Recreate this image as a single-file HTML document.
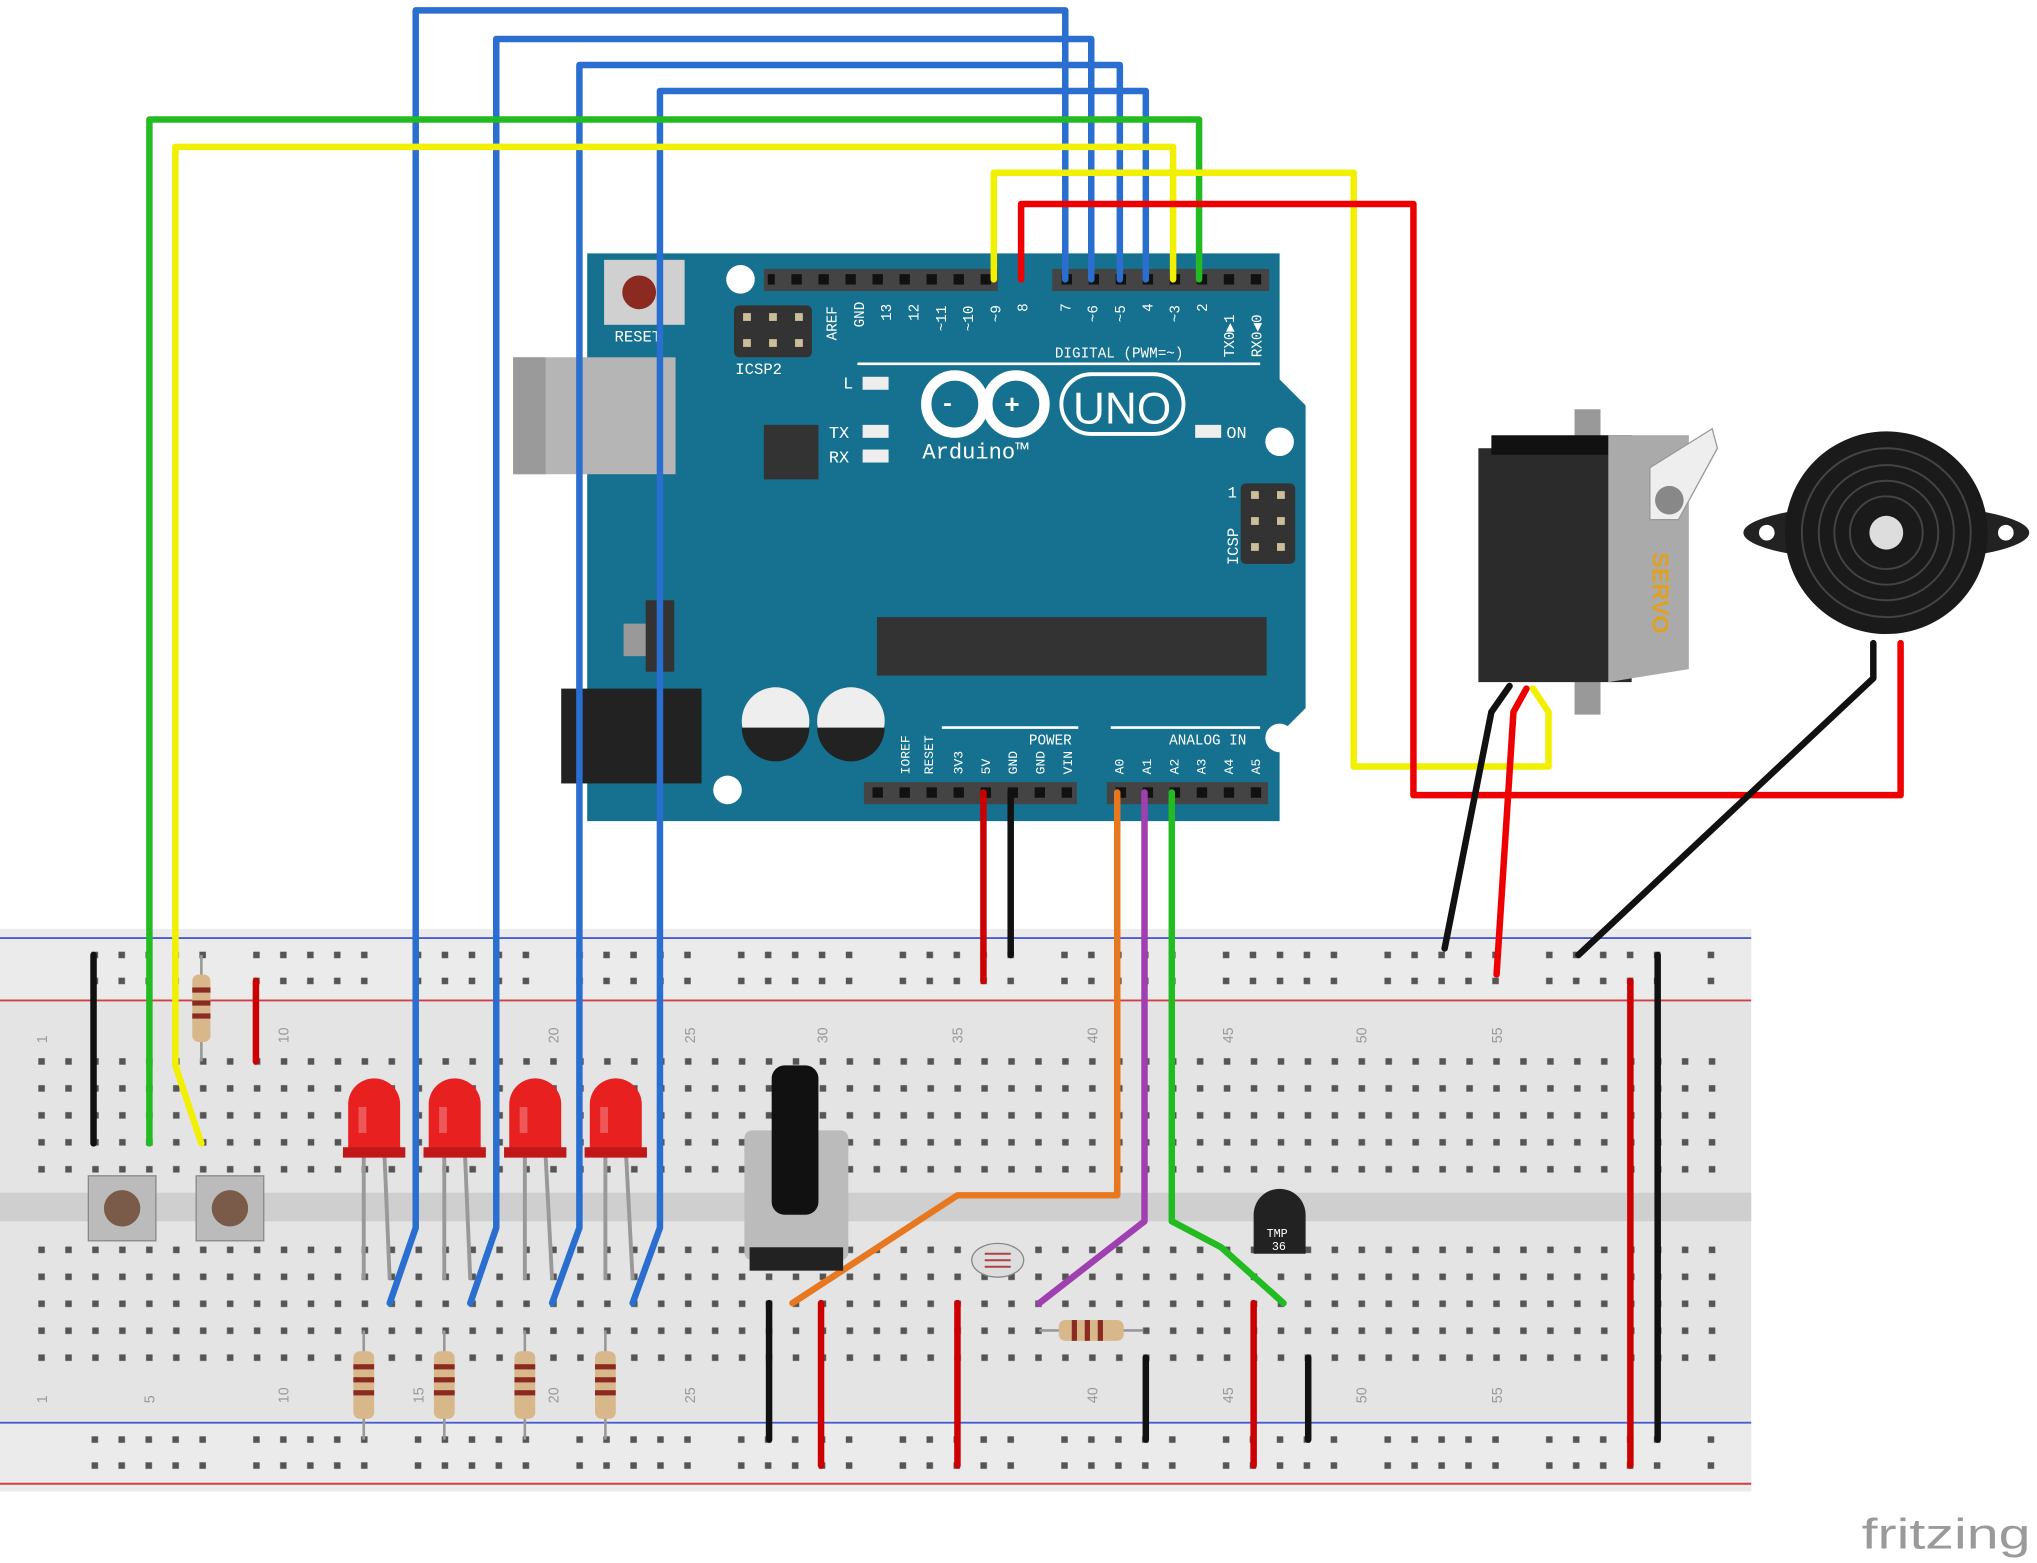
<!DOCTYPE html>
<html><head><meta charset="utf-8"><style>
html,body{margin:0;padding:0;background:#fff;}
svg{display:block;}
</style></head><body>
<svg width="2037" height="1563" viewBox="0 0 1568 1203" preserveAspectRatio="none" xmlns="http://www.w3.org/2000/svg" font-family="Liberation Mono, monospace">
<defs>
<pattern id="hp" patternUnits="userSpaceOnUse" x="21.63" y="806.6" width="20.74" height="20.75">
<rect x="7.87" y="7.87" width="5" height="5" fill="#555"/>
</pattern>
<pattern id="hp2" patternUnits="userSpaceOnUse" x="21.63" y="951.6" width="20.74" height="20.75">
<rect x="7.87" y="7.87" width="5" height="5" fill="#555"/>
</pattern>
<pattern id="pr" patternUnits="userSpaceOnUse" x="63" y="725" width="124.4" height="100">
<g fill="#555">
<rect x="7.5" y="7.5" width="5" height="5"/><rect x="28.2" y="7.5" width="5" height="5"/><rect x="49" y="7.5" width="5" height="5"/><rect x="69.7" y="7.5" width="5" height="5"/><rect x="90.5" y="7.5" width="5" height="5"/>
<rect x="7.5" y="27.5" width="5" height="5"/><rect x="28.2" y="27.5" width="5" height="5"/><rect x="49" y="27.5" width="5" height="5"/><rect x="69.7" y="27.5" width="5" height="5"/><rect x="90.5" y="27.5" width="5" height="5"/>
</g>
</pattern>
<pattern id="pr2" patternUnits="userSpaceOnUse" x="63" y="1098" width="124.4" height="100">
<g fill="#555">
<rect x="7.5" y="7.5" width="5" height="5"/><rect x="28.2" y="7.5" width="5" height="5"/><rect x="49" y="7.5" width="5" height="5"/><rect x="69.7" y="7.5" width="5" height="5"/><rect x="90.5" y="7.5" width="5" height="5"/>
<rect x="7.5" y="27.5" width="5" height="5"/><rect x="28.2" y="27.5" width="5" height="5"/><rect x="49" y="27.5" width="5" height="5"/><rect x="69.7" y="27.5" width="5" height="5"/><rect x="90.5" y="27.5" width="5" height="5"/>
</g>
</pattern>
<pattern id="pin" patternUnits="userSpaceOnUse" x="0" y="0" width="20.8" height="20">
<rect x="6" y="0" width="8" height="20" fill="#111"/>
</pattern>
</defs>
<rect width="1568" height="1203" fill="#fff"/>
<!-- breadboard -->
<rect x="0" y="715" width="1348" height="433" fill="#e4e4e4"/>
<rect x="0" y="715" width="1348" height="55" fill="#ebebeb"/>
<rect x="0" y="1093" width="1348" height="55" fill="#ebebeb"/>
<line x1="0" y1="722" x2="1348" y2="722" stroke="#4a5ad0" stroke-width="1.5"/>
<line x1="0" y1="770" x2="1348" y2="770" stroke="#d04040" stroke-width="1.5"/>
<line x1="0" y1="1095" x2="1348" y2="1095" stroke="#4a5ad0" stroke-width="1.5"/>
<line x1="0" y1="1142" x2="1348" y2="1142" stroke="#d04040" stroke-width="1.5"/>
<rect x="0" y="918" width="1348" height="22" fill="#cfcfcf"/>
<rect x="21.63" y="806.6" width="1307" height="103.7" fill="url(#hp)"/>
<rect x="21.63" y="951.6" width="1307" height="103.7" fill="url(#hp2)"/>
<rect x="63" y="725" width="1270" height="40" fill="url(#pr)"/>
<rect x="63" y="1098" width="1270" height="40" fill="url(#pr2)"/>
<g font-size="11" fill="#999" font-family="Liberation Sans,sans-serif">
<text transform="translate(36,803) rotate(-90)">1</text>
<text transform="translate(222,803) rotate(-90)">10</text>
<text transform="translate(430,803) rotate(-90)">20</text>
<text transform="translate(535,803) rotate(-90)">25</text>
<text transform="translate(637,803) rotate(-90)">30</text>
<text transform="translate(741,803) rotate(-90)">35</text>
<text transform="translate(845,803) rotate(-90)">40</text>
<text transform="translate(949,803) rotate(-90)">45</text>
<text transform="translate(1052,803) rotate(-90)">50</text>
<text transform="translate(1156,803) rotate(-90)">55</text>
<text transform="translate(36,1080) rotate(-90)">1</text>
<text transform="translate(119,1080) rotate(-90)">5</text>
<text transform="translate(222,1080) rotate(-90)">10</text>
<text transform="translate(326,1080) rotate(-90)">15</text>
<text transform="translate(430,1080) rotate(-90)">20</text>
<text transform="translate(535,1080) rotate(-90)">25</text>
<text transform="translate(845,1080) rotate(-90)">40</text>
<text transform="translate(949,1080) rotate(-90)">45</text>
<text transform="translate(1052,1080) rotate(-90)">50</text>
<text transform="translate(1156,1080) rotate(-90)">55</text>
</g>

<!-- Arduino -->
<path d="M452,195 L985,195 L985,292 L1005,312 L1005,545 L985,565 L985,632 L452,632 Z" fill="#15718f"/>
<rect x="395" y="275" width="125" height="90" fill="#b5b5b5"/>
<rect x="395" y="275" width="25" height="90" fill="#9a9a9a"/>
<rect x="465" y="200" width="62" height="50" fill="#d0d0d0"/>
<circle cx="492" cy="225" r="13" fill="#8b2a20"/>
<text x="473" y="263" font-size="12" fill="#fff">RESET</text>
<rect x="565" y="235" width="60" height="40" rx="4" fill="#333"/>
<g fill="#cbbf9a"><rect x="572" y="241" width="6" height="6"/><rect x="592" y="241" width="6" height="6"/><rect x="612" y="241" width="6" height="6"/><rect x="572" y="261" width="6" height="6"/><rect x="592" y="261" width="6" height="6"/><rect x="612" y="261" width="6" height="6"/></g>
<text x="566" y="288" font-size="12" fill="#fff">ICSP2</text>
<rect x="588" y="207" width="180" height="17" fill="#444"/>
<rect x="810" y="207" width="167" height="17" fill="#444"/>
<rect x="591" y="211" width="177" height="8" fill="url(#pin)"/>
<rect x="814" y="211" width="163" height="8" fill="url(#pin)"/>
<circle cx="570" cy="215" r="11" fill="#fff"/>
<circle cx="985" cy="340" r="11" fill="#fff"/>
<circle cx="985" cy="568" r="11" fill="#fff"/>
<circle cx="560" cy="608" r="11" fill="#fff"/>
<line x1="660" y1="280" x2="970" y2="280" stroke="#fff" stroke-width="2"/>
<text x="812" y="275" font-size="11" fill="#fff">DIGITAL (PWM=~)</text>
<g font-size="11" fill="#fff">
<text transform="translate(644,262) rotate(-90)">AREF</text>
<text transform="translate(665,252) rotate(-90)">GND</text>
<text transform="translate(686,247) rotate(-90)">13</text>
<text transform="translate(707,247) rotate(-90)">12</text>
<text transform="translate(728,255) rotate(-90)">~11</text>
<text transform="translate(749,255) rotate(-90)">~10</text>
<text transform="translate(770,248) rotate(-90)">~9</text>
<text transform="translate(791,240) rotate(-90)">8</text>
<text transform="translate(824,240) rotate(-90)">7</text>
<text transform="translate(845,248) rotate(-90)">~6</text>
<text transform="translate(866,248) rotate(-90)">~5</text>
<text transform="translate(887,240) rotate(-90)">4</text>
<text transform="translate(908,248) rotate(-90)">~3</text>
<text transform="translate(929,240) rotate(-90)">2</text>
<text transform="translate(950,275) rotate(-90)">TX0▶1</text>
<text transform="translate(971,275) rotate(-90)">RX0◀0</text>
</g>
<rect x="664" y="290" width="20" height="10" fill="#eee"/><text x="649" y="299" font-size="13" fill="#fff">L</text>
<rect x="664" y="327" width="20" height="10" fill="#eee"/><text x="638" y="337" font-size="13" fill="#fff">TX</text>
<rect x="664" y="346" width="20" height="10" fill="#eee"/><text x="638" y="356" font-size="13" fill="#fff">RX</text>
<rect x="588" y="327" width="42" height="42" fill="#333"/>
<g fill="none" stroke="#fff" stroke-width="8"><circle cx="735" cy="311" r="22"/><circle cx="782" cy="311" r="22"/></g>
<text x="724" y="316" font-size="18" fill="#fff" font-weight="bold">-</text><text x="773" y="318" font-size="20" fill="#fff" font-weight="bold">+</text>
<rect x="817" y="288" width="94" height="46" rx="23" fill="none" stroke="#fff" stroke-width="3"/>
<text x="826" y="326" font-size="34" fill="#fff" font-family="Liberation Sans,sans-serif">UNO</text>
<text x="710" y="353" font-size="17" fill="#fff">Arduino™</text>
<rect x="920" y="327" width="20" height="10" fill="#eee"/><text x="944" y="337" font-size="13" fill="#fff">ON</text>
<rect x="955" y="372" width="42" height="62" rx="4" fill="#333"/>
<g fill="#cbbf9a"><rect x="963" y="378" width="6" height="6"/><rect x="983" y="378" width="6" height="6"/><rect x="963" y="398" width="6" height="6"/><rect x="983" y="398" width="6" height="6"/><rect x="963" y="418" width="6" height="6"/><rect x="983" y="418" width="6" height="6"/></g>
<text transform="translate(953,435) rotate(-90)" font-size="12" fill="#fff">ICSP</text>
<text x="945" y="383" font-size="12" fill="#fff">1</text>
<rect x="675" y="475" width="300" height="45" fill="#333"/>
<rect x="497" y="462" width="22" height="55" fill="#333"/><rect x="480" y="480" width="17" height="25" fill="#999"/>
<rect x="432" y="530" width="108" height="73" fill="#222"/>
<circle cx="597" cy="555" r="26" fill="#eee"/><path d="M571,560 A26,26 0 0 0 623,560 Z" fill="#222"/>
<circle cx="655" cy="555" r="26" fill="#eee"/><path d="M629,560 A26,26 0 0 0 681,560 Z" fill="#222"/>
<line x1="725" y1="560" x2="830" y2="560" stroke="#fff" stroke-width="2"/>
<line x1="855" y1="560" x2="970" y2="560" stroke="#fff" stroke-width="2"/>
<text x="792" y="573" font-size="11" fill="#fff">POWER</text>
<text x="900" y="573" font-size="11" fill="#fff">ANALOG IN</text>
<g font-size="10" fill="#fff">
<text transform="translate(700,596) rotate(-90)">IOREF</text><text transform="translate(718,596) rotate(-90)">RESET</text>
<text transform="translate(741,596) rotate(-90)">3V3</text><text transform="translate(762,596) rotate(-90)">5V</text>
<text transform="translate(783,596) rotate(-90)">GND</text><text transform="translate(804,596) rotate(-90)">GND</text>
<text transform="translate(825,596) rotate(-90)">VIN</text>
<text transform="translate(865,596) rotate(-90)">A0</text><text transform="translate(886,596) rotate(-90)">A1</text>
<text transform="translate(907,596) rotate(-90)">A2</text><text transform="translate(928,596) rotate(-90)">A3</text>
<text transform="translate(949,596) rotate(-90)">A4</text><text transform="translate(970,596) rotate(-90)">A5</text>
</g>
<rect x="665" y="602" width="164" height="17" fill="#444"/>
<rect x="852" y="602" width="124" height="17" fill="#444"/>
<rect x="667" y="606" width="160" height="8" fill="url(#pin)"/>
<rect x="854" y="606" width="120" height="8" fill="url(#pin)"/>

<!-- servo -->
<rect x="1212" y="315" width="20" height="235" fill="#999"/>
<rect x="1138" y="345" width="118" height="180" fill="#2b2b2b"/>
<rect x="1148" y="335" width="108" height="15" fill="#111"/>
<path d="M1238,335 L1300,335 L1300,515 L1238,525 Z" fill="#aaa"/>
<path d="M1270,360 L1318,330 L1322,345 L1292,400 L1270,400 Z" fill="#eee" stroke="#999"/>
<circle cx="1285" cy="385" r="11" fill="#888"/>
<text transform="translate(1272,425) rotate(90)" font-size="18" font-weight="bold" fill="#e0a020" font-family="Liberation Sans,sans-serif">SERVO</text>
<!-- buzzer -->
<ellipse cx="1452" cy="410" rx="110" ry="22" fill="#222"/>
<circle cx="1360" cy="410" r="6" fill="#fff"/><circle cx="1544" cy="410" r="6" fill="#fff"/>
<circle cx="1452" cy="410" r="78" fill="#1a1a1a"/>
<g fill="none" stroke="#444" stroke-width="1.5"><circle cx="1452" cy="410" r="65"/><circle cx="1452" cy="410" r="52"/><circle cx="1452" cy="410" r="40"/><circle cx="1452" cy="410" r="28"/></g>
<circle cx="1452" cy="410" r="13" fill="#ddd"/>

<!-- LEDs legs -->
<g stroke="#999" stroke-width="3">
<line x1="280" y1="890" x2="280" y2="985"/><line x1="296" y1="890" x2="300" y2="985"/>
<line x1="342" y1="890" x2="342" y2="985"/><line x1="358" y1="890" x2="362" y2="985"/>
<line x1="404" y1="890" x2="404" y2="985"/><line x1="420" y1="890" x2="425" y2="985"/>
<line x1="466" y1="890" x2="466" y2="985"/><line x1="482" y1="890" x2="487" y2="985"/>
</g>
<g stroke="#999" stroke-width="2">
<line x1="280" y1="1024" x2="280" y2="1108"/><line x1="342" y1="1024" x2="342" y2="1108"/>
<line x1="404" y1="1024" x2="404" y2="1108"/><line x1="466" y1="1024" x2="466" y2="1108"/>
<line x1="155" y1="735" x2="155" y2="817"/>
</g>

<!-- wires -->
<g fill="none" stroke-width="5" stroke-linejoin="round" stroke-linecap="round">
<polyline stroke="#2a6fd0" points="300,1003 320,945 320,8 820,8 820,215"/>
<polyline stroke="#2a6fd0" points="362,1003 382,945 382,30 840,30 840,215"/>
<polyline stroke="#2a6fd0" points="425,1003 446,945 446,50 862,50 862,215"/>
<polyline stroke="#2a6fd0" points="487,1003 508,945 508,70 882,70 882,215"/>
<polyline stroke="#22bb22" points="115,880 115,92 923,92 923,215"/>
<polyline stroke="#f0f000" points="155,880 135,820 135,113 903,113 903,215"/>
<polyline stroke="#f0f000" points="765,215 765,133 1042,133 1042,590 1192,590 1192,548 1180,530"/>
<polyline stroke="#ee0000" points="786,215 786,157 1088,157 1088,612 1463,612 1463,495"/>
<polyline stroke="#ee0000" points="1175,530 1165,548 1152,750"/>
<polyline stroke="#111" points="1162,528 1148,548 1112,730"/>
<polyline stroke="#111" points="1442,495 1442,522 1215,735"/>
<polyline stroke="#cc0000" points="757,610 757,755"/>
<polyline stroke="#111" points="778,610 778,735"/>
<polyline stroke="#e87820" points="860,610 860,920 737,920 610,1003"/>
<polyline stroke="#a040b0" points="881,610 881,940 800,1003"/>
<polyline stroke="#22bb22" points="902,610 902,940 940,960 988,1003"/>
<polyline stroke="#111" points="72,735 72,880"/>
<polyline stroke="#cc0000" points="197,755 197,817"/>
<polyline stroke="#cc0000" points="1255,755 1255,1128"/>
<polyline stroke="#111" points="1276,735 1276,1108"/>
<polyline stroke="#111" points="592,1003 592,1108"/>
<polyline stroke="#cc0000" points="632,1003 632,1128"/>
<polyline stroke="#cc0000" points="737,1003 737,1128"/>
<polyline stroke="#111" points="882,1045 882,1108"/>
<polyline stroke="#cc0000" points="965,1003 965,1128"/>
<polyline stroke="#111" points="1007,1045 1007,1108"/>
</g>

<!-- LEDs -->
<g fill="#e82020">
<path d="M268,890 L268,850 A20,20 0 0 1 308,850 L308,890 Z"/>
<path d="M330,890 L330,850 A20,20 0 0 1 370,850 L370,890 Z"/>
<path d="M392,890 L392,850 A20,20 0 0 1 432,850 L432,890 Z"/>
<path d="M454,890 L454,850 A20,20 0 0 1 494,850 L494,890 Z"/>
</g>
<g fill="#c01818">
<rect x="264" y="883" width="48" height="8"/><rect x="326" y="883" width="48" height="8"/>
<rect x="388" y="883" width="48" height="8"/><rect x="450" y="883" width="48" height="8"/>
</g>
<g fill="#f07070" opacity="0.7">
<rect x="276" y="852" width="6" height="20"/><rect x="338" y="852" width="6" height="20"/>
<rect x="400" y="852" width="6" height="20"/><rect x="462" y="852" width="6" height="20"/>
</g>
<!-- resistors -->
<g fill="#d8b88a">
<rect x="272" y="1040" width="16" height="52" rx="5"/><rect x="334" y="1040" width="16" height="52" rx="5"/>
<rect x="396" y="1040" width="16" height="52" rx="5"/><rect x="458" y="1040" width="16" height="52" rx="5"/>
<rect x="148" y="750" width="14" height="52" rx="5"/>
</g>
<g fill="#8b2a20">
<rect x="272" y="1050" width="16" height="4"/><rect x="272" y="1060" width="16" height="4"/><rect x="272" y="1070" width="16" height="4"/>
<rect x="334" y="1050" width="16" height="4"/><rect x="334" y="1060" width="16" height="4"/><rect x="334" y="1070" width="16" height="4"/>
<rect x="396" y="1050" width="16" height="4"/><rect x="396" y="1060" width="16" height="4"/><rect x="396" y="1070" width="16" height="4"/>
<rect x="458" y="1050" width="16" height="4"/><rect x="458" y="1060" width="16" height="4"/><rect x="458" y="1070" width="16" height="4"/>
<rect x="148" y="760" width="14" height="4"/><rect x="148" y="770" width="14" height="4"/><rect x="148" y="780" width="14" height="4"/>
</g>
<!-- buttons -->
<rect x="68" y="905" width="52" height="50" fill="#bbb" stroke="#888"/><circle cx="94" cy="930" r="14" fill="#7a5a48"/>
<rect x="151" y="905" width="52" height="50" fill="#bbb" stroke="#888"/><circle cx="177" cy="930" r="14" fill="#7a5a48"/>
<!-- pot -->
<rect x="573" y="870" width="80" height="100" rx="6" fill="#bbb"/>
<rect x="577" y="960" width="72" height="18" fill="#222"/>
<rect x="594" y="820" width="36" height="115" rx="10" fill="#111"/>
<!-- photoresistor -->
<ellipse cx="768" cy="970" rx="20" ry="13" fill="#ddd" stroke="#888"/>
<path d="M758,965 h20 M758,970 h20 M758,975 h20" stroke="#a44" stroke-width="1.5"/>
<line x1="800" y1="1024" x2="880" y2="1024" stroke="#999" stroke-width="2"/>
<rect x="815" y="1016" width="50" height="16" rx="5" fill="#d8b88a"/>
<g fill="#8b2a20"><rect x="825" y="1016" width="4" height="16"/><rect x="835" y="1016" width="4" height="16"/><rect x="845" y="1016" width="4" height="16"/></g>
<!-- tmp36 -->
<path d="M965,965 L965,935 A20,20 0 0 1 1005,935 L1005,965 Z" fill="#222"/>
<text x="975" y="952" font-size="9" fill="#fff">TMP</text><text x="979" y="962" font-size="9" fill="#fff">36</text>

<text x="1433" y="1192" font-size="33" fill="#9a9a9a" font-family="Liberation Sans,sans-serif" textLength="130" lengthAdjust="spacingAndGlyphs">fritzing</text>
</svg>
</body></html>
